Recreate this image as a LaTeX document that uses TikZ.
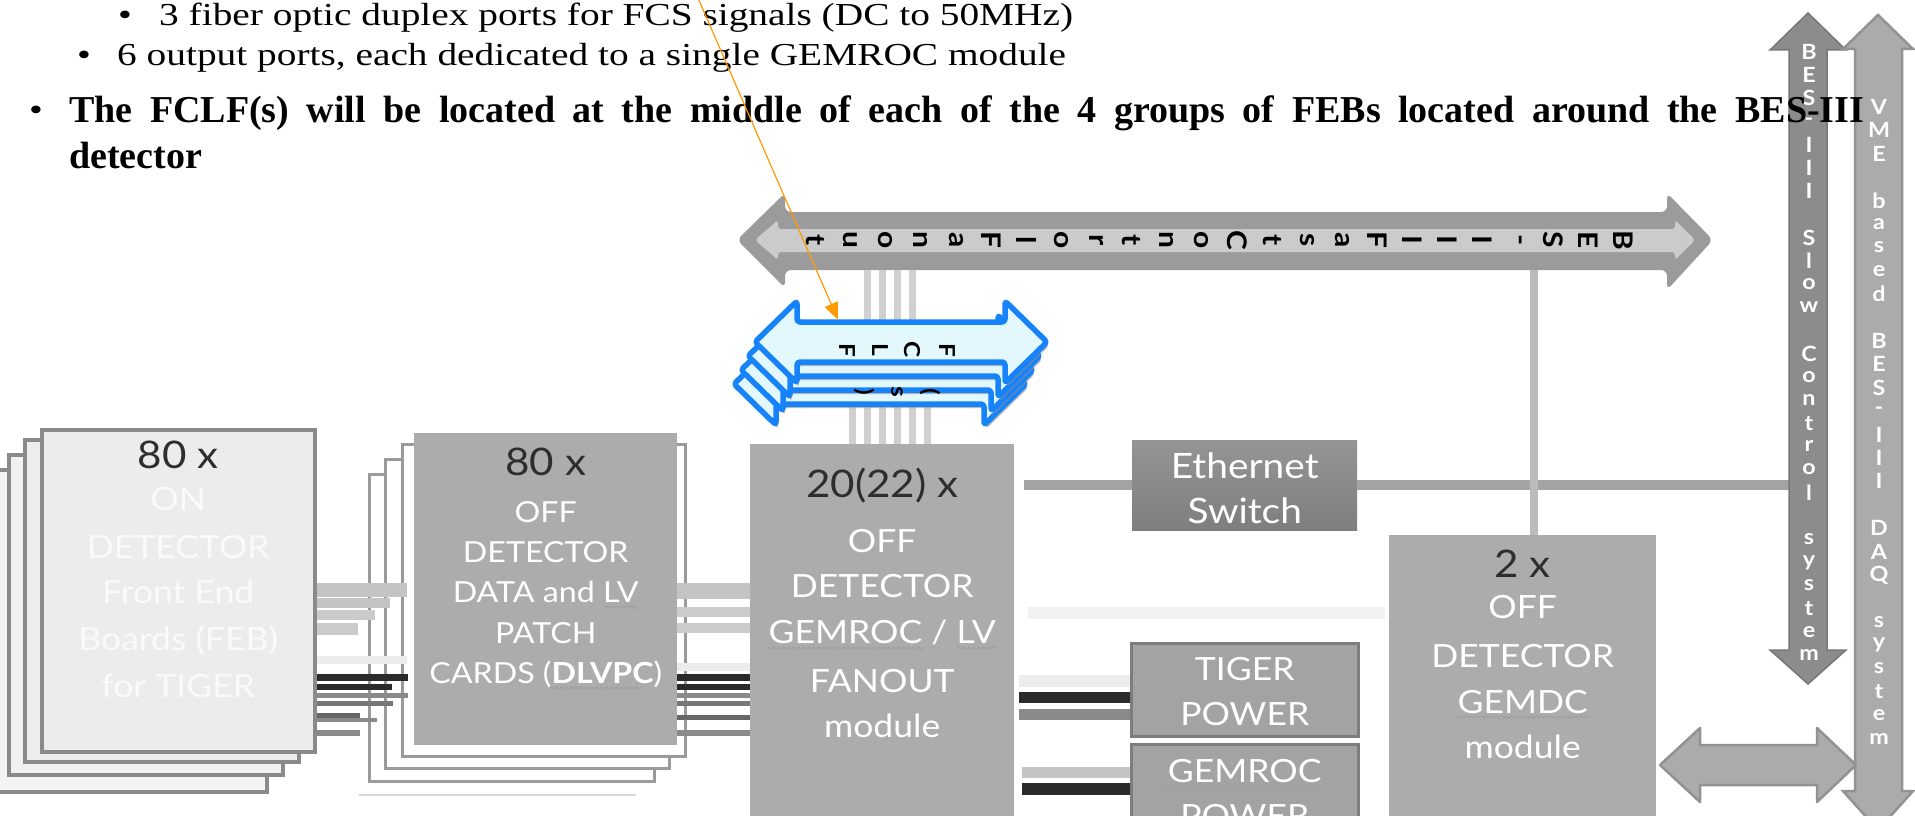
\documentclass[tikz,border=0pt]{standalone}
\usepackage{fontspec}
\setmainfont{Liberation Serif}[FakeStretch=1.23]
\newfontfamily\boldserif{Liberation Serif}
\newfontfamily\lato{Lato}[FakeStretch=1.11]
\usetikzlibrary{positioning,arrows.meta,decorations.pathmorphing}

\definecolor{busdark}{HTML}{9B9B9B}
\definecolor{buslight}{HTML}{CBCBCB}
\definecolor{boxgray}{HTML}{ACACAC}
\definecolor{febfill}{HTML}{ECECEC}
\definecolor{febedge}{HTML}{8A8A8A}
\definecolor{frameedge}{HTML}{9A9A9A}
\definecolor{fclfblue}{HTML}{1783FB}
\definecolor{fclfcyan}{HTML}{E2F8FC}
\definecolor{ornline}{HTML}{FF9A00}
\definecolor{numtext}{HTML}{2E2E2E}
\definecolor{linkgray}{HTML}{D0D0D0}
\definecolor{ethline}{HTML}{A3A3A3}
\definecolor{ethtop}{HTML}{959595}
\definecolor{ethbot}{HTML}{7E7E7E}
\definecolor{pwrfill}{HTML}{A3A3A3}
\definecolor{pwredge}{HTML}{7D7D7D}
\definecolor{slowfill}{HTML}{8C8C8C}
\definecolor{vmefill}{HTML}{ABABAB}
\definecolor{vmeedge}{HTML}{929292}
\definecolor{cabdark}{HTML}{2B2B2B}
\definecolor{cabA}{HTML}{C4C4C4}
\definecolor{cabB}{HTML}{CBCBCB}
\definecolor{cabF}{HTML}{ECECEC}
\definecolor{cabM}{HTML}{8A8A8A}
\definecolor{cabN}{HTML}{777777}
\definecolor{cabP}{HTML}{666666}

\begin{document}
\begin{tikzpicture}[x=1pt, y=-1pt,
  txt/.style={inner sep=0, anchor=base west, font=\fontsize{32}{38}\selectfont},
  boldtxt/.style={inner sep=0, anchor=base west, font=\boldserif\fontsize{38}{44}\selectfont\bfseries},
  hold/.style={inner sep=0, draw=none},
  febbox/.style={draw=febedge, line width=3.5pt, fill=febfill, inner sep=0, anchor=north west},
  frame/.style={draw=frameedge, line width=3pt, fill=white, inner sep=0, anchor=north west},
  box/.style={fill=boxgray, inner sep=0, anchor=north west},
  pwr/.style={fill=pwrfill, draw=pwredge, line width=2.5pt, inner sep=0, anchor=north west},
  lbl/.style={inner sep=0, anchor=base, text=white, font=\lato\fontsize{32}{40}\selectfont},
  small/.style={lbl, font=\lato\fontsize{29}{34}\selectfont},
  num/.style={inner sep=0, anchor=base, text=numtext, font=\lato\fontsize{38}{44}\selectfont},
  let/.style={inner sep=0, font=\lato\bfseries\fontsize{27}{27}\selectfont},
  flet/.style={inner sep=0, rotate=-90, font=\lato\bfseries\fontsize{22}{22}\selectfont},
  vlet/.style={inner sep=0, text=white, font=\lato\bfseries\fontsize{21}{21}\selectfont},
  link/.style={draw=linkgray, line width=7pt},
  wav/.style={draw=gray!75, line width=0.9pt, decorate, decoration={snake, amplitude=1.2pt, segment length=5pt}}
]
\useasboundingbox (0,0) rectangle (1915,816);
\begin{scope}
\clip (0,0) rectangle (1915,816);

% helper nodes for the arrows
\node[hold, minimum width=882pt, minimum height=58pt] (bus) at (1226,241) {};
\node[hold, minimum width=292pt, minimum height=40pt] (fclf) at (901,342) {};
\node[hold, minimum width=38pt, minimum height=600pt] (slow) at (1808,350) {};
\node[hold, minimum width=47pt, minimum height=742pt] (vme) at (1878,420) {};

% --- front end boards ---
\node[febbox, fill=febfill!60!white, minimum width=274pt, minimum height=322pt] (feb3) at (-9,468) {};
\node[febbox, fill=febfill!75!white, minimum width=274pt, minimum height=320pt] (feb2) at (7,453) {};
\node[febbox, fill=febfill!90!white, minimum width=274pt, minimum height=322pt] (feb1) at (23,438) {};
\node[febbox, minimum width=273pt, minimum height=322pt] (feb) at (40,428) {};

% --- patch cards (frames behind) ---
\draw[frameedge!40, line width=2pt] (359,795) -- (636,795);
\node[frame, minimum width=285pt, minimum height=307pt] (dlv3) at (368,473) {};
\node[frame, minimum width=284pt, minimum height=309pt] (dlv2) at (384,458) {};
\node[frame, minimum width=283pt, minimum height=312pt] (dlv1) at (401,443) {};

% cables FEB -> DLVPC
\foreach \yy/\xe/\cc/\ww in {590/407/cabA/14, 603/390/cabA/10, 615/375/cabB/10, 629/358/cabB/12,
    660/407/cabF/8, 677/408/cabdark/7, 687/392/cabdark/6, 695/408/cabM/5, 703/393/cabN/5,
    715/360/cabP/5, 720/377/cabM/4, 733/360/cabM/6}
  \draw[line width=\ww pt, draw=\cc] (feb.east |- 0,\yy) -- (\xe,\yy);

\node[box, minimum width=263pt, minimum height=312pt] (dlvpc) at (414,433) {};

% --- fanout and the rest ---
\node[box, minimum width=264pt, minimum height=390pt] (fanout) at (750,444) {};
\node[box, minimum width=267pt, minimum height=290pt] (gemdc) at (1389,535) {};
\node[inner sep=0, anchor=north west, top color=ethtop, bottom color=ethbot, minimum width=225pt, minimum height=90pt] (eth) at (1132,440) {};
\node[pwr, minimum width=227pt, minimum height=93pt] (tiger) at (1130,642) {};
\node[pwr, minimum width=227pt, minimum height=90pt] (gempwr) at (1130,743) {};

% cables DLVPC -> fanout
\foreach \yy/\cc/\ww in {591/cabA/16, 612/cabB/10, 628/cabB/10, 667/cabF/8, 677/cabdark/7,
    687/cabdark/6, 695/cabM/5, 703/cabN/5, 717/cabP/5, 733/cabM/6}
  \draw[line width=\ww pt, draw=\cc] (dlvpc.east |- 0,\yy) -- (fanout.west |- 0,\yy);

% cables fanout -> power supplies
\foreach \yy/\cc/\ww in {681/cabF/12, 697/cabdark/11, 714/cabM/11}
  \draw[line width=\ww pt, draw=\cc] ([xshift=5pt]fanout.east |- 0,\yy) -- (tiger.west |- 0,\yy);
\foreach \yy/\cc/\ww in {772/cabA/11, 789/cabdark/12}
  \draw[line width=\ww pt, draw=\cc] ([xshift=8pt]fanout.east |- 0,\yy) -- (gempwr.west |- 0,\yy);
\draw[line width=12pt, draw=black!5] ([xshift=14pt]fanout.east |- 0,613) -- ([xshift=-4pt]gemdc.west |- 0,613);

% ethernet
\draw[line width=10pt, draw=ethline] ([xshift=10pt]fanout.east |- eth.west) -- (eth.west);
\draw[line width=10pt, draw=ethline] (eth.east) -- (slow.west |- eth.east);

% --- fast control bus ---
\path[fill=busdark, rounded corners=6pt] (737,240) -- (785,193) -- (785,212) -- (1667,212) -- (1667,193)
  -- (1713,240) -- (1667,290) -- (1667,270) -- (785,270) -- (785,288) -- cycle;
\path[fill=buslight, rounded corners=3pt] (755,240) -- (778,220) -- (778,229) -- (1675,229) -- (1675,220)
  -- (1695,240) -- (1675,260) -- (1675,252) -- (778,252) -- (778,260) -- cycle;
\foreach \ch [count=\k from 0] in {B,E,S,-,I,I,I,F,a,s,t,C,o,n,t,r,o,l,F,a,n,o,u,t}
  \node[let, rotate=-90] (bl\k) at (1623-35.1*\k,240) {\ch};

% links bus -> fanout, bus -> gemdc
\foreach \dx in {-15,0,15,30}
  \draw[link] ([xshift=\dx pt]fanout.north) -- ([xshift=\dx pt]fanout.north |- bus.south);
\foreach \dx in {-30,45}
  \draw[link] ([xshift=\dx pt]fanout.north) -- ([xshift=\dx pt]fanout.north |- fclf.south);
\draw[link, line width=8pt, draw=linkgray!90!black] ([xshift=11pt]gemdc.north) -- ([xshift=11pt]gemdc.north |- bus.south);

% --- FCLF stack ---
\foreach \i in {3,2,1,0} {
  \begin{scope}[shift={(901-7*\i,342+14*\i)}]
    \path[fill=black!45, opacity=0.6, rounded corners=3pt, shift={(2,4)}] (-146,0) -- (-104,-41) -- (-104,-20) -- (104,-20)
      -- (104,-41) -- (146,0) -- (104,41) -- (104,20) -- (-104,20) -- (-104,41) -- cycle;
    \path[draw=fclfblue, fill=fclfcyan, line width=5.5pt, line join=round, rounded corners=3pt] (-146,0) -- (-104,-41)
      -- (-104,-20) -- (104,-20) -- (104,-41) -- (146,0) -- (104,41) -- (104,20) -- (-104,20) -- (-104,41) -- cycle;
  \end{scope}
  \ifnum\i=1
    \node[flet] (fp1) at (930,392) {(};
    \node[flet] (fs) at (897,392) {s};
    \node[flet] (fp2) at (864,392) {)};
  \fi
}
\foreach \ch/\xx [count=\k] in {F/947,C/912,L/880,F/847}
  \node[flet] (fl\k) at (\xx,350) {\ch};

% --- vertical system arrows ---
\path[fill=slowfill, draw=slowfill!85!black, line width=1.5pt] (1808,13) -- (1846,50) -- (1827,50) -- (1827,650) -- (1846,650)
  -- (1808,684) -- (1770,650) -- (1789,650) -- (1789,50) -- (1770,50) -- cycle;
\path[fill=vmefill, draw=vmeedge, line width=2.5pt] (1878,15) -- (1913,49) -- (1902,49) -- (1902,791) -- (1913,791)
  -- (1878,830) -- (1843,791) -- (1855,791) -- (1855,49) -- (1843,49) -- cycle;
\foreach \ch [count=\k from 0] in {B,E,S,-,I,I,I,{},S,l,o,w,{},C,o,n,t,r,o,l,{},s,y,s,t,e,m}
  \node[vlet] (sl\k) at (1809,52+23.2*\k) {\ch};
\foreach \ch [count=\k from 0] in {V,M,E,{},b,a,s,e,d,{},B,E,S,-,I,I,I,{},D,A,Q,{},s,y,s,t,e,m}
  \node[vlet] (vm\k) at (1879,107+23.4*\k) {\ch};

% gemdc <-> vme arrow
\path[fill=vmefill, draw=vmeedge, line width=2.5pt, line join=round] (1660,765) -- (1700,728) -- (1700,745) -- (1817,745)
  -- (1817,728) -- (1856,765) -- (1817,802) -- (1817,785) -- (1700,785) -- (1700,802) -- cycle;

% --- box texts ---
\node[num] (febn) at (feb.north |- 0,468) {80 x};
\foreach \t/\yy [count=\k] in {ON/510, DETECTOR/558, {Front End}/603, {Boards (FEB)}/650, {for TIGER}/697}
  \node[lbl, text=white!96!gray] (febt\k) at (feb.north |- 0,\yy) {\t};
\node[num] (dlvn) at (dlvpc.north |- 0,475) {80 x};
\foreach \t/\yy [count=\k] in {OFF/522, DETECTOR/562, {DATA and LV}/602, PATCH/643, {CARDS ({\bfseries DLVPC})}/683}
  \node[small] (dlvt\k) at (dlvpc.north |- 0,\yy) {\t};
\node[num] (fann) at (fanout.north |- 0,497) {20(22) x};
\foreach \t/\yy [count=\k] in {OFF/552, DETECTOR/597, {GEMROC / LV}/643, FANOUT/692, module/737}
  \node[lbl] (fant\k) at (fanout.north |- 0,\yy) {\t};
\node[num] (gdcn) at (gemdc.north |- 0,577) {2 x};
\foreach \t/\yy [count=\k] in {OFF/618, DETECTOR/667, GEMDC/713, module/758}
  \node[lbl] (gdct\k) at (gemdc.north |- 0,\yy) {\t};
\node[lbl, font=\lato\fontsize{35}{40}\selectfont] (etht1) at (eth.north |- 0,478) {Ethernet};
\node[lbl, font=\lato\fontsize{35}{40}\selectfont] (etht2) at (eth.north |- 0,523) {Switch};
\node[lbl] (tigt1) at (tiger.north |- 0,680) {TIGER};
\node[lbl] (tigt2) at (tiger.north |- 0,725) {POWER};
\node[lbl] (gpwt1) at (gempwr.north |- 0,782) {GEMROC};
\node[lbl] (gpwt2) at (gempwr.north |- 0,827) {POWER};

% spell-check waves
\draw[wav] (605,607) -- (636,607);
\draw[wav] (550,688) -- (643,688);
\draw[wav] (767,648) -- (923,648);
\draw[wav] (957,648) -- (997,648);
\draw[wav] (1455,717) -- (1590,717);
\draw[wav] (1165,787) -- (1322,787);

% --- bullet text ---
\node[txt] (dot1) at (118,26) {\textbullet};
\node[txt] (ln1) at (159,26) {3 fiber optic duplex ports for FCS signals (DC to 50MHz)};
\node[txt] (dot2) at (77,66) {\textbullet};
\node[txt] (ln2) at (117,66) {6 output ports, each dedicated to a single GEMROC module};
\node[txt] (dot3) at (29,120) {\textbullet};
\node[boldtxt] (ln3) at (69,122) {\makebox[1795pt][s]{The FCLF(s) will be located at the middle of each of the 4 groups of FEBs located around the BES-III}};
\node[boldtxt] (ln4) at (69,168) {detector};

% pointer to the FCLF
\coordinate (ornstart) at (698,-2);
\draw[draw=ornline, line width=1.2pt, -{Triangle[length=17pt, width=14pt]}] (ornstart) -- ([xshift=-63pt, yshift=2pt]fclf.north);
\end{scope}
\end{tikzpicture}
\end{document}
